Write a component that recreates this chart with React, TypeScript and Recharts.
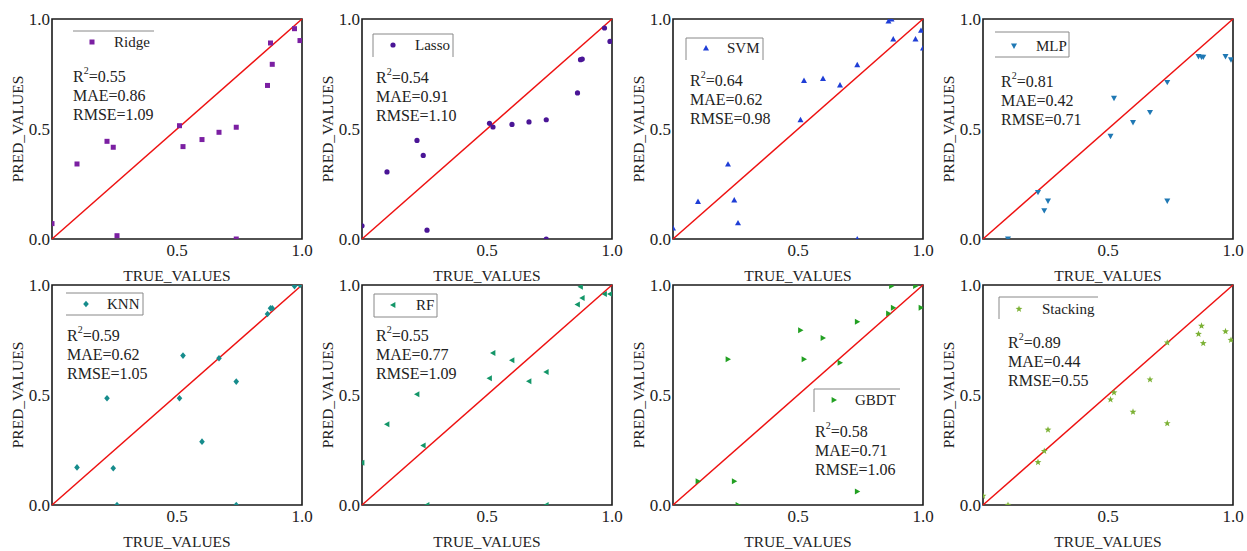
import React from 'react';
import {
  ScatterChart,
  Scatter,
  XAxis,
  YAxis,
  ReferenceLine,
  ReferenceArea,
  Customized,
} from 'recharts';

// shared x values (measured), one pred array per model; null = point off the plot
const TRUE_VALUES = [0, 0.1, 0.22, 0.245, 0.26, 0.51, 0.524, 0.6, 0.668, 0.737, 0.737, 0.862, 0.874, 0.881, 0.97, 0.992, 1.0];

const RIDGE = [0.07, 0.341, 0.444, 0.417, 0.015, 0.515, 0.42, 0.452, 0.485, 0.508, 0.0, 0.698, 0.891, 0.794, 0.956, 0.902, null];
const LASSO = [0.06, 0.305, 0.448, 0.38, 0.04, 0.526, 0.509, 0.521, 0.532, 0.542, 0.0, 0.664, 0.815, 0.818, 0.959, 0.898, null];
const SVM = [0.05, 0.17, 0.34, 0.177, 0.073, 0.542, 0.72, 0.729, 0.7, 0.792, 0.0, 0.99, 1.0, 0.909, 0.909, 0.948, 0.868];
const MLP = [null, 0.0, 0.212, 0.129, 0.173, 0.467, 0.64, 0.53, 0.576, 0.712, 0.173, 0.83, 0.827, 0.827, 0.83, 0.815, null];
const KNN = [null, 0.171, 0.485, 0.167, 0.0, 0.485, 0.679, 0.288, 0.667, 0.561, 0.0, 0.868, 0.894, 0.894, 0.995, 1.0, null];
const RF = [0.192, 0.367, 0.503, 0.27, 0.0, 0.576, 0.691, 0.658, 0.562, 0.605, 0.0, 0.911, 0.992, 0.941, 0.959, 0.959, null];
const GBDT = [null, 0.108, 0.662, 0.108, 0.0, 0.794, 0.662, 0.759, 0.647, 0.833, 0.061, 0.871, 0.995, 0.897, 0.995, 0.897, null];
const STACKING = [0.041, 0.0, 0.194, 0.245, 0.342, 0.479, 0.511, 0.423, 0.57, 0.738, 0.371, 0.777, 0.814, 0.735, 0.789, 0.75, null];

const MODELS = ['Ridge', 'Lasso', 'SVM', 'MLP', 'KNN', 'RF', 'GBDT', 'Stacking'];
const PREDS = [RIDGE, LASSO, SVM, MLP, KNN, RF, GBDT, STACKING];
const R2 = ['0.55', '0.54', '0.64', '0.81', '0.59', '0.55', '0.58', '0.89'];
const MAE = ['0.86', '0.91', '0.62', '0.42', '0.62', '0.77', '0.71', '0.44'];
const RMSE = ['1.09', '1.10', '0.98', '0.71', '1.05', '1.09', '1.06', '0.55'];

const X_TICKS = [0.5, 1];
const Y_TICKS = [0, 0.5, 1];

const FONT = '"Liberation Serif", "Times New Roman", serif';
const W = 320;
const H = 290;
const PL = 52; // plot left inside chart
const PT = 19; // plot top inside chart

const STYLES = [
  { color: '#7b1fa2', shape: 'square', box: [21, 12, 81, 24], edges: 't', mark: [40, 23], label: [62, 23], stats: [21, 57] },
  { color: '#4a1596', shape: 'circle', box: [11, 15, 80, 23], edges: 'tlr', mark: [31, 26], label: [53, 26], stats: [14, 58] },
  { color: '#1f3ed6', shape: 'up', box: [13, 19, 77, 22], edges: 'tlr', mark: [33, 29], label: [54, 29], stats: [17, 61] },
  { color: '#1f78b4', shape: 'down', box: [12, 13, 74, 25], edges: 'trb', mark: [31, 27], label: [53, 27], stats: [18, 62] },
  { color: '#168c8c', shape: 'diamond', box: [14, 8, 77, 22], edges: 'trb', mark: [34, 19], label: [55, 19], stats: [15, 50] },
  { color: '#139668', shape: 'left', box: [12, 9, 63, 23], edges: 'tlrb', mark: [31, 20], label: [54, 20], stats: [14, 50] },
  { color: '#22a022', shape: 'right', box: [141, 104, 86, 23], edges: 'tl', mark: [161, 115], label: [182, 115], stats: [142, 146] },
  { color: '#7cb135', shape: 'star', box: [16, 12, 99, 22], edges: 'tl', mark: [36, 24], label: [59, 24], stats: [25, 57] },
];

const Marker = ({ cx, cy, kind, color }: any) => {
  if (cx == null || cy == null) return null;
  const s = 3;
  if (kind === 'square') return <rect x={cx - 2.5} y={cy - 2.5} width={5} height={5} fill={color} />;
  if (kind === 'circle') return <circle cx={cx} cy={cy} r={2.6} fill={color} />;
  if (kind === 'diamond')
    return <polygon points={`${cx},${cy - 3.3} ${cx + 2.8},${cy} ${cx},${cy + 3.3} ${cx - 2.8},${cy}`} fill={color} />;
  if (kind === 'star') {
    const pts: string[] = [];
    for (let i = 0; i < 10; i++) {
      const r = i % 2 === 0 ? 3.6 : 1.5;
      const a = -Math.PI / 2 + (i * Math.PI) / 5;
      pts.push(`${cx + r * Math.cos(a)},${cy + r * Math.sin(a)}`);
    }
    return <polygon points={pts.join(' ')} fill={color} />;
  }
  const rot = { up: 0, down: 180, left: -90, right: 90 }[kind as string] || 0;
  return (
    <polygon
      points={`${cx},${cy - s} ${cx + s},${cy + s * 0.8} ${cx - s},${cy + s * 0.8}`}
      fill={color}
      transform={`rotate(${rot} ${cx} ${cy})`}
    />
  );
};

const Decor = ({ idx }: any) => {
  const st = STYLES[idx];
  const [bx, by, bw, bh] = st.box;
  const x0 = PL + bx;
  const y0 = PT + by;
  const e = st.edges;
  const sx = PL + st.stats[0];
  const sy = PT + st.stats[1];
  const txt = { fontFamily: FONT, fontSize: 16, fill: '#222', dominantBaseline: 'central' as const };
  return (
    <g>
      {e.includes('t') && <line x1={x0} y1={y0} x2={x0 + bw} y2={y0} stroke="#888" />}
      {e.includes('l') && <line x1={x0} y1={y0} x2={x0} y2={y0 + bh} stroke="#888" />}
      {e.includes('r') && <line x1={x0 + bw} y1={y0} x2={x0 + bw} y2={y0 + bh} stroke="#888" />}
      {e.includes('b') && <line x1={x0} y1={y0 + bh} x2={x0 + bw} y2={y0 + bh} stroke="#888" />}
      <Marker cx={PL + st.mark[0]} cy={PT + st.mark[1]} kind={st.shape} color={st.color} />
      <text x={PL + st.label[0]} y={PT + st.label[1]} {...txt} fontSize={15}>
        {MODELS[idx]}
      </text>
      <text x={sx} y={sy} {...txt}>
        R<tspan fontSize={10} dy={-6}>2</tspan>
        <tspan dy={6}>={R2[idx]}</tspan>
      </text>
      <text x={sx} y={sy + 19} {...txt}>
        MAE={MAE[idx]}
      </text>
      <text x={sx} y={sy + 38} {...txt}>
        RMSE={RMSE[idx]}
      </text>
    </g>
  );
};

const XTitle = ({ viewBox }: any) => (
  <text
    x={viewBox.x + viewBox.width / 2}
    y={viewBox.y + 36}
    textAnchor="middle"
    dominantBaseline="central"
    fontFamily={FONT}
    fontSize={15.5}
    fill="#222"
  >
    TRUE_VALUES
  </text>
);

const YTitle = ({ viewBox }: any) => {
  const x = viewBox.x + 5;
  const y = viewBox.y + viewBox.height / 2;
  return (
    <text
      x={x}
      y={y}
      transform={`rotate(-90 ${x} ${y})`}
      textAnchor="middle"
      dominantBaseline="central"
      fontFamily={FONT}
      fontSize={15.5}
      fill="#222"
    >
      PRED_VALUES
    </text>
  );
};

const Panel = ({ idx }: any) => {
  const st = STYLES[idx];
  const data = TRUE_VALUES.map((t, i) => ({ x: t, y: PREDS[idx][i] })).filter((d) => d.y != null);
  const tickStyle = { fontFamily: FONT, fontSize: 17, fill: '#222' };
  return (
    <ScatterChart width={W} height={H} margin={{ top: PT, right: W - PL - 250, bottom: H - PT - 220 - 40, left: 12 }}>
      <XAxis
        type="number"
        dataKey="x"
        domain={[0, 1]}
        ticks={X_TICKS}
        tickFormatter={(v: number) => v.toFixed(1)}
        allowDataOverflow
        axisLine={false}
        tickLine={false}
        tickSize={2}
        tickMargin={3}
        height={40}
        tick={tickStyle}
        interval={0}
        label={{ content: XTitle }}
      />
      <YAxis
        type="number"
        dataKey="y"
        domain={[0, 1]}
        ticks={Y_TICKS}
        tickFormatter={(v: number) => v.toFixed(1)}
        allowDataOverflow
        axisLine={false}
        tickLine={false}
        tickSize={2}
        tickMargin={0}
        width={40}
        tick={tickStyle}
        interval={0}
        label={{ content: YTitle }}
      />
      <ReferenceArea x1={0} x2={1} y1={0} y2={1} fill="none" stroke="#1a1a1a" strokeWidth={1.6} fillOpacity={0} />
      <ReferenceLine
        segment={[
          { x: 0, y: 0 },
          { x: 1, y: 1 },
        ]}
        stroke="#ee1111"
        strokeWidth={1.5}
      />
      <Scatter
        data={data}
        isAnimationActive={false}
        shape={(p: any) => <Marker cx={p.cx} cy={p.cy} kind={st.shape} color={st.color} />}
      />
      <Customized component={<Decor idx={idx} />} />
    </ScatterChart>
  );
};

const COL_LEFT = [0, 310, 621, 931];
const ROW_TOP = [0, 266];

export default function App() {
  return (
    <div
      style={{
        position: 'fixed',
        left: 0,
        top: 0,
        width: 1247,
        height: 551,
        background: '#fff',
        overflow: 'hidden',
      }}
    >
      {MODELS.map((m, i) => (
        <div key={m} style={{ position: 'absolute', left: COL_LEFT[i % 4], top: ROW_TOP[Math.floor(i / 4)] }}>
          <Panel idx={i} />
        </div>
      ))}
    </div>
  );
}
